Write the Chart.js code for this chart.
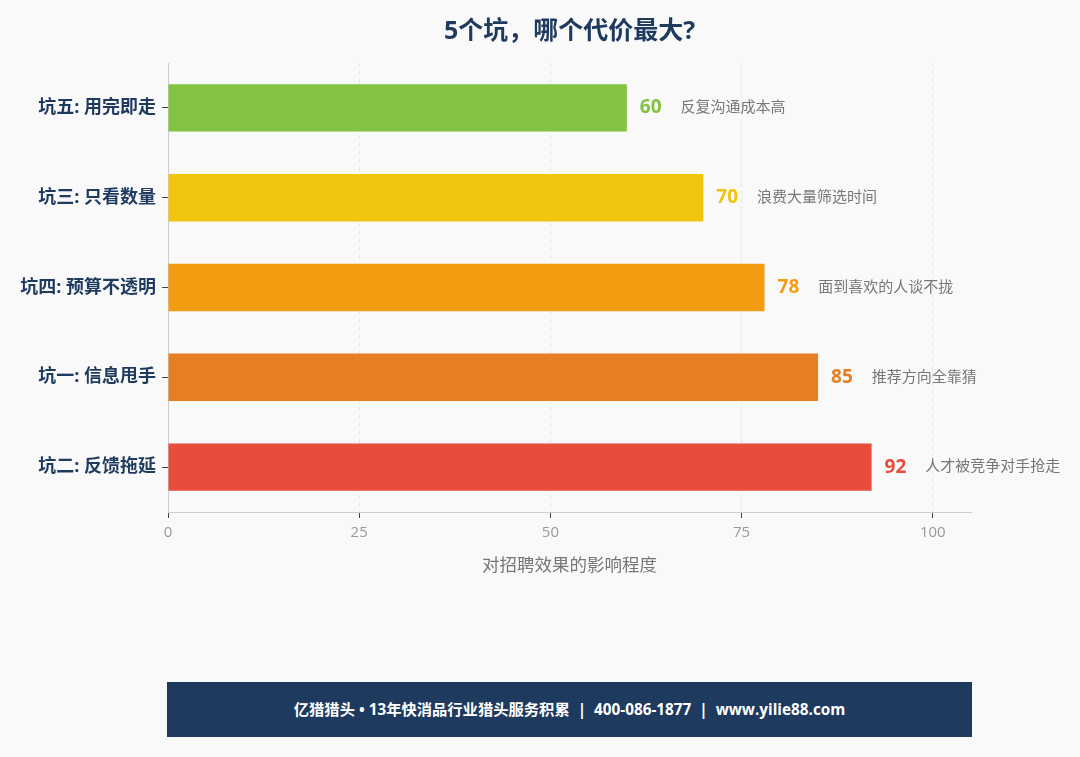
<!DOCTYPE html>
<html>
<head>
<meta charset="utf-8">
<script src="https://cdn.jsdelivr.net/npm/chart.js@4.4.0/dist/chart.umd.min.js"></script>
<style>
	body { margin: 0; background: #f9f9f9; font-family: 'Open Sans', 'Noto Sans CJK SC', sans-serif; }
	#wrap { position: relative; width: 1080px; height: 757px; }
	#box { position: absolute; left: 0; top: 0; width: 1080px; height: 600px; }
	#footer {
		position: absolute; left: 167px; top: 682px; width: 805px; height: 55px;
		background: #1f3a5f; color: #fff; font-weight: bold; font-size: 15.3px;
		line-height: 55px; text-align: center; white-space: pre;
	}
</style>
<script>
	var labels = ['坑五: 用完即走', '坑三: 只看数量', '坑四: 预算不透明', '坑一: 信息甩手', '坑二: 反馈拖延'];
	var values = [60, 70, 78, 85, 92];
	var notes = ['反复沟通成本高', '浪费大量筛选时间', '面到喜欢的人谈不拢', '推荐方向全靠猜', '人才被竞争对手抢走'];
	var colors = ['#82c341', '#f1c40f', '#f39c12', '#e67e22', '#e74c3c'];
	var xTicks = [0, 25, 50, 75, 100];

	var FONT = "'Open Sans', 'Noto Sans CJK SC', sans-serif";

	// value + note next to each bar
	var barText = {
		id: 'barText',
		afterDatasetsDraw: function(chart) {
			var ctx = chart.ctx;
			var bars = chart.getDatasetMeta(0).data;
			ctx.save();
			ctx.textBaseline = 'middle';
			ctx.textAlign = 'left';
			for (var i = 0; i < bars.length; ++i) {
				var x = bars[i].x + 13;
				var y = bars[i].y;
				ctx.font = 'bold 19px ' + FONT;
				ctx.fillStyle = colors[i];
				var txt = String(values[i]);
				ctx.fillText(txt, x, y);
				x += ctx.measureText(txt).width + 19;
				ctx.font = '15px ' + FONT;
				ctx.fillStyle = '#777';
				ctx.fillText(notes[i], x, y);
			}
			ctx.restore();
		}
	};

	function load() {
		var ctx = document.getElementById('myChart').getContext('2d');
		new Chart(ctx, {
			type: 'bar',
			data: {
				labels: labels,
				datasets: [{
					data: values,
					backgroundColor: colors,
					borderWidth: 0,
					categoryPercentage: 0.8,
					barPercentage: 0.66
				}]
			},
			options: {
				indexAxis: 'y',
				responsive: true,
				maintainAspectRatio: false,
				animation: false,
				layout: { padding: { left: 0, right: 109, top: 0, bottom: 8 } },
				plugins: {
					legend: { display: false },
					tooltip: { enabled: false },
					title: {
						display: true,
						fullSize: false,
						text: '5个坑，哪个代价最大?',
						color: '#1f3a5f',
						font: { family: FONT, size: 25, weight: 'bold' },
						padding: { top: 17, bottom: 16 }
					}
				},
				scales: {
					x: {
						min: 0,
						max: 105,
						ticks: { color: '#999', padding: 6, autoSkip: false, font: { family: FONT, size: 15 } },
						afterBuildTicks: function(scale) {
							scale.ticks = xTicks.map(function(v) { return { value: v }; });
						},
						afterFit: function(scale) { scale.height = 80; },
						grid: { color: '#e4e4e4', tickLength: 6, tickColor: '#444', tickBorderDash: [] },
						border: { color: '#cccccc', dash: [4, 4] },
						title: {
							display: true,
							text: '对招聘效果的影响程度',
							color: '#777',
							font: { family: FONT, size: 17.5 },
							padding: { top: 0, bottom: 15 }
						}
					},
					y: {
						afterFit: function(scale) { scale.width = 168; },
						ticks: { color: '#1f3a5f', padding: 6, font: { family: FONT, size: 18, weight: 'bold' } },
						grid: { drawOnChartArea: false, offset: false, tickLength: 6, tickColor: '#444' },
						border: { color: '#cccccc' }
					}
				}
			},
			plugins: [barText]
		});
	}
</script>
</head>
<body onload="load()">
	<div id="wrap">
		<div id="box"><canvas id="myChart"></canvas></div>
		<div id="footer">亿猎猎头 • 13年快消品行业猎头服务积累  |  400-086-1877  |  www.yilie88.com</div>
	</div>
</body>
</html>
